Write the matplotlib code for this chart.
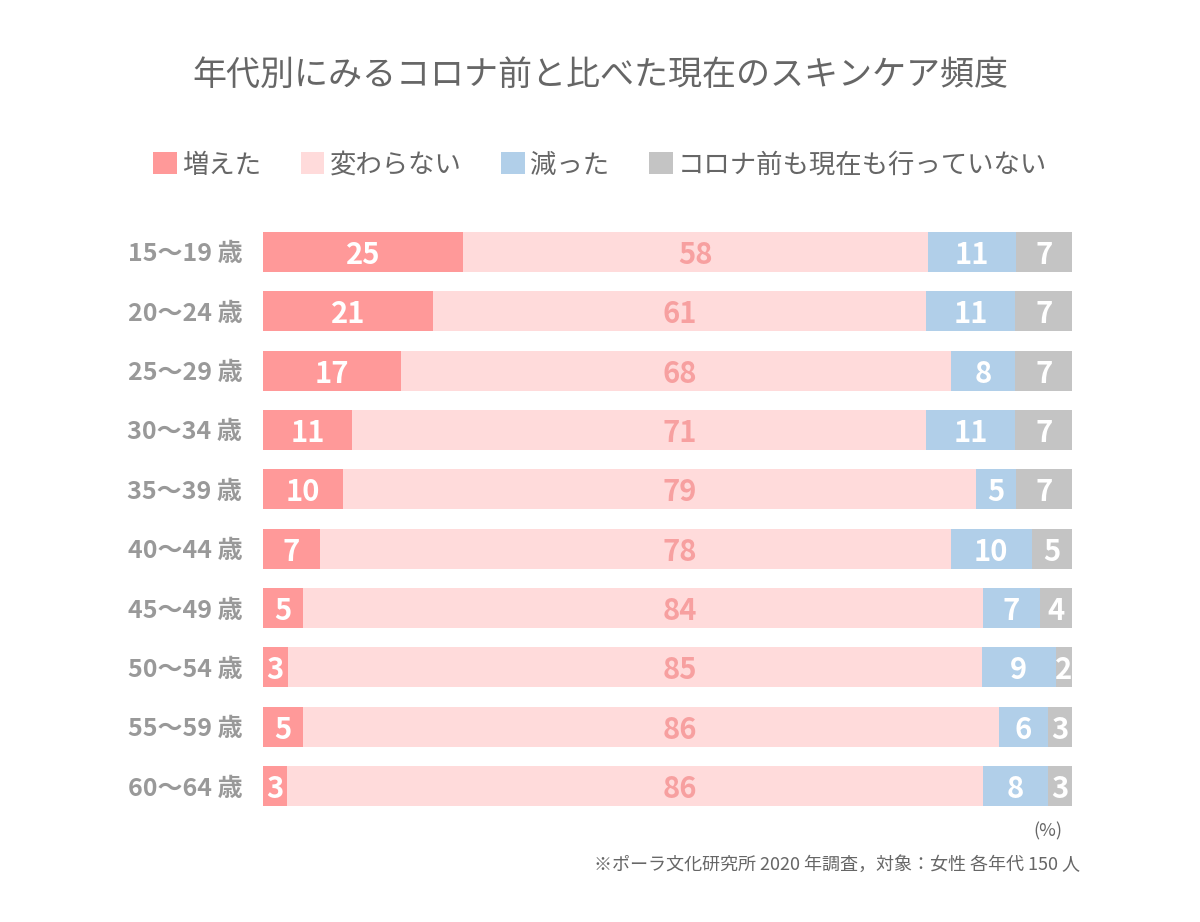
import numpy as np
import matplotlib.pyplot as plt
from matplotlib.patches import Patch

plt.rcParams['font.family'] = ['Noto Sans CJK JP', 'DejaVu Sans']

ages = ['15〜19 歳', '20〜24 歳', '25〜29 歳', '30〜34 歳', '35〜39 歳',
        '40〜44 歳', '45〜49 歳', '50〜54 歳', '55〜59 歳', '60〜64 歳']
increased = [25, 21, 17, 11, 10, 7, 5, 3, 5, 3]
unchanged = [58, 61, 68, 71, 79, 78, 84, 85, 86, 86]
decreased = [11, 11, 8, 11, 5, 10, 7, 9, 6, 8]
never = [7, 7, 7, 7, 7, 5, 4, 2, 3, 3]

series_names = ['増えた', '変わらない', '減った', 'コロナ前も現在も行っていない']
colors = ['#ff9999', '#ffdbdb', '#b1cfe9', '#c4c4c4']
text_colors = ['white', '#f7a0a0', 'white', 'white']

data = np.array([increased, unchanged, decreased, never], dtype=float)
share = data / data.sum(axis=0) * 100

fig = plt.figure(figsize=(12, 9.22), dpi=100)
ax = fig.add_axes([263/1200, 1 - 815.7/922, (1072-263)/1200, (815.7-222.3)/922])

y = np.arange(len(ages))
left = np.zeros(len(ages))
for k in range(4):
    ax.barh(y, share[k], left=left, height=0.674, color=colors[k], edgecolor='none')
    for i in range(len(ages)):
        xpos = left[i] + share[k][i] / 2
        if k == 1:
            # the middle labels sit a bit right of centre in the original
            xpos = max(xpos, 51.5)
        ax.text(xpos, y[i], str(int(data[k][i])),
                ha='center', va='center_baseline', fontsize=21, fontweight='bold',
                color=text_colors[k])
    left += share[k]

ax.set_xlim(0, 100)
ax.set_ylim(len(ages) - 0.5, -0.5)
ax.set_yticks(y)
ax.set_yticklabels(ages, fontsize=18, fontweight='bold', color='#999999',
                   va='center_baseline')
ax.tick_params(axis='y', length=0, pad=15)
ax.set_xticks([])
for s in ax.spines.values():
    s.set_visible(False)

fig.text(0.5, 1 - 75/922, '年代別にみるコロナ前と比べた現在のスキンケア頻度',
         ha='center', va='center', fontsize=24.5, color='#666666')

handles = [Patch(facecolor=c, edgecolor='none') for c in colors]
fig.legend(handles, series_names, ncol=4, loc='center',
           bbox_to_anchor=(0.5, 1 - 165/922), frameon=False,
           handlelength=0.9, handleheight=0.9, handletextpad=0.2,
           columnspacing=1.5, fontsize=19, labelcolor='#666666')

fig.text(1062/1200, 1 - 831/922, '(%)', ha='right', va='center',
         fontsize=13, color='#666666')
fig.text(1080/1200, 1 - 865/922, '※ポーラ文化研究所 2020 年調査，対象：女性 各年代 150 人',
         ha='right', va='center', fontsize=13, color='#666666')

fig.savefig('out.png')
